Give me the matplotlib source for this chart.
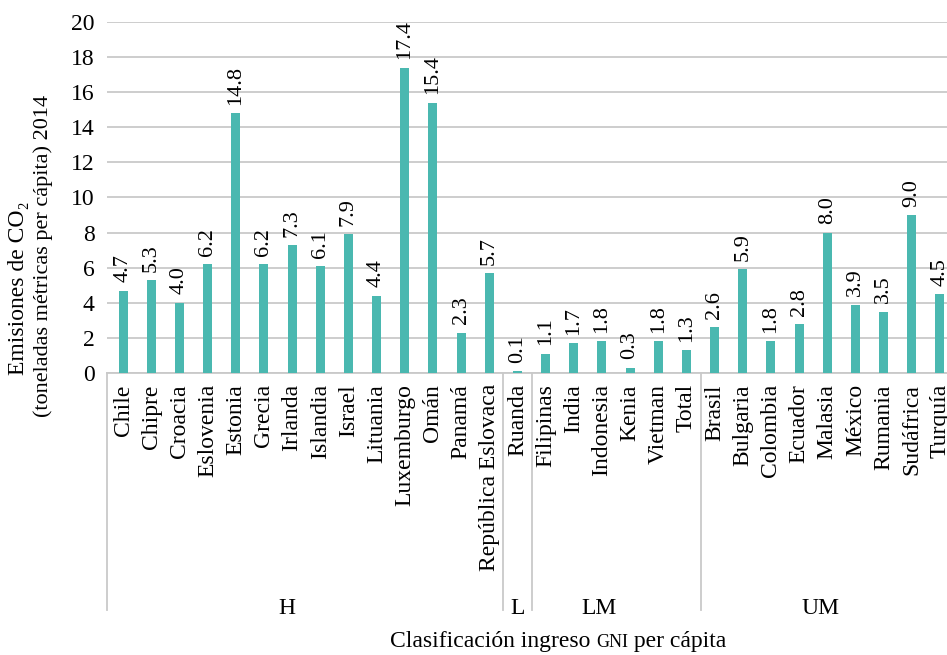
import matplotlib
matplotlib.use('Agg')
import matplotlib.pyplot as plt
from matplotlib.lines import Line2D

plt.rcParams['font.family'] = ['Liberation Serif', 'DejaVu Serif']

# data
countries = ['Chile', 'Chipre', 'Croacia', 'Eslovenia', 'Estonia', 'Grecia', 'Irlanda',
             'Islandia', 'Israel', 'Lituania', 'Luxemburgo', 'Omán', 'Panamá',
             'República Eslovaca', 'Ruanda', 'Filipinas', 'India', 'Indonesia', 'Kenia',
             'Vietman', 'Total', 'Brasil', 'Bulgaria', 'Colombia', 'Ecuador', 'Malasia',
             'México', 'Rumania', 'Sudáfrica', 'Turquía']
values = [4.7, 5.3, 4.0, 6.2, 14.8, 6.2, 7.3, 6.1, 7.9, 4.4, 17.4, 15.4, 2.3, 5.7,
          0.1, 1.1, 1.7, 1.8, 0.3, 1.8, 1.3,
          2.6, 5.9, 1.8, 2.8, 8.0, 3.9, 3.5, 9.0, 4.5]
groups = ['H', 'L', 'LM', 'UM']
group_sizes = [14, 1, 6, 9]

bar_color = '#4ab8b0'
grid_color = '#c9c9c9'
fs = 17

fig = plt.figure(figsize=(9.47, 6.55), dpi=100)
ax = fig.add_axes([0.113, 0.4305, 0.887, 0.536])

x = list(range(len(countries)))
ax.bar(x, values, width=0.32, color=bar_color, zorder=3)

for xi, v in zip(x, values):
    ax.annotate(f'{v:.1f}', (xi, v), xytext=(0, 6), textcoords='offset points',
                rotation=90, ha='center', va='bottom', fontsize=16)

ax.set_ylim(0, 20)
ax.set_xlim(-0.57, 29.25)
ax.set_yticks(range(0, 21, 2))
ax.yaxis.grid(True, color=grid_color, linewidth=1.3, zorder=0)
ax.tick_params(axis='y', length=0, pad=9, labelsize=fs)
ax.set_xticks(x)
ax.set_xticklabels(countries, rotation=90, fontsize=fs)
ax.tick_params(axis='x', length=0, pad=8)
for s in ['top', 'right', 'left']:
    ax.spines[s].set_visible(False)
ax.spines['bottom'].set_color(grid_color)
ax.spines['bottom'].set_linewidth(1.3)

# group separators and group labels
trans = ax.get_xaxis_transform()
bottom_y = -0.675
bounds = [-0.57]
pos = 0
for n in group_sizes:
    pos += n
    bounds.append(pos - 0.5)
for b in bounds[:-1]:
    ax.add_line(Line2D([b, b], [0, bottom_y], transform=trans, color=grid_color,
                       linewidth=1.3, clip_on=False))
label_x = [5.8, 14.0, 16.9, 24.75]
for g, lx in zip(groups, label_x):
    ax.text(lx, bottom_y + 0.005, g, transform=trans, ha='center', va='center', fontsize=fs)

# x axis title with small caps GNI
t1 = fig.text(0.412, 0.012, 'Clasificación ingreso ', fontsize=fs, ha='left', va='baseline')
t2 = ax.annotate('GNI', xy=(1, 0), xycoords=t1, xytext=(0, 0.9), textcoords='offset points',
                 fontsize=13, ha='left', va='bottom')
t3 = ax.annotate(' per cápita', xy=(1, 0), xycoords=t2, xytext=(0, -0.9),
                 textcoords='offset points', fontsize=fs, ha='left', va='bottom')

# y axis title
fig.text(0.02, 0.56, 'Emisiones de CO₂', rotation=90, fontsize=fs, ha='center', va='center')
fig.text(0.046, 0.61, '(toneladas métricas per cápita) 2014', rotation=90, fontsize=16,
         ha='center', va='center')

fig.savefig('out.png', dpi=100)
